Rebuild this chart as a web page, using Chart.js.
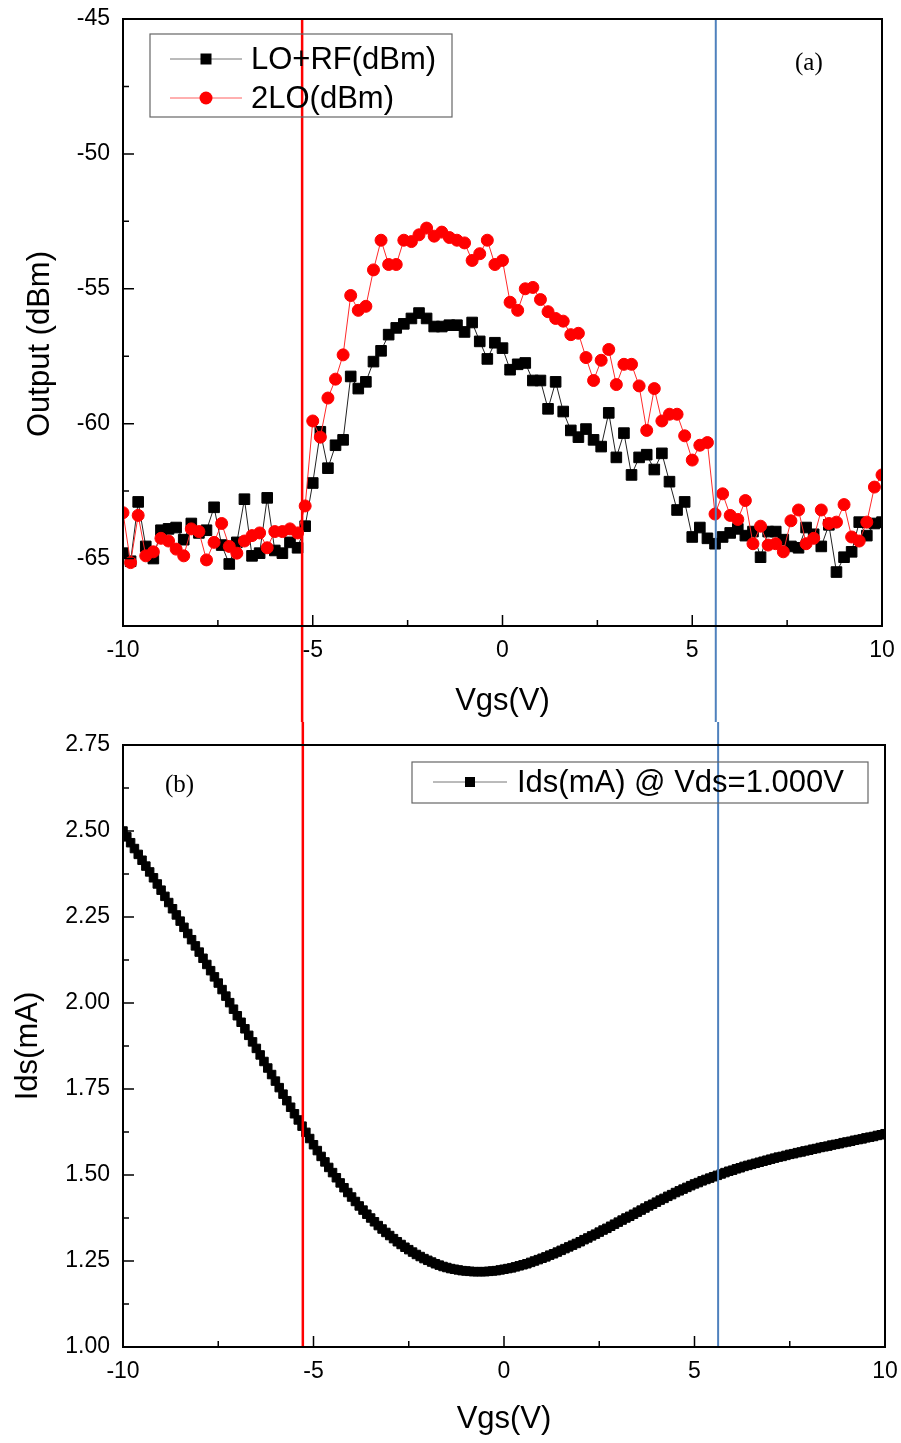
<!DOCTYPE html>
<html>
<head>
<meta charset="utf-8">
<script src="https://cdn.jsdelivr.net/npm/chart.js@4.4.0/dist/chart.umd.min.js"></script>
<style>
  body { margin: 0; background: #fff; }
  #wrap { position: relative; width: 901px; height: 1443px; }
  canvas { position: absolute; left: 0; }
</style>
</head>
<body>
<div id="wrap">
  <canvas id="mix" width="901" height="722" style="top:0"></canvas>
  <canvas id="ids" width="901" height="721" style="top:722px"></canvas>
</div>
<script>
// gate sweep: -10 V .. 10 V
const vgsStart = -10
const stepMix = 0.2
const stepIds = 0.1

// (a) mixer output, one value per 0.2 V
const loRf = [
  -64.8, -65.1, -62.9, -64.55, -65.0, -63.95, -63.9, -63.85, -64.3, -63.7,
  -64.05, -63.95, -63.1, -64.5, -65.2, -64.4, -62.8, -64.9, -64.8, -62.75,
  -64.7, -64.8, -64.4, -64.6, -63.8, -62.2, -60.3, -61.65, -60.8, -60.6,
  -58.25, -58.7, -58.45, -57.7, -57.3, -56.7, -56.45, -56.3, -56.1, -55.9,
  -56.1, -56.4, -56.4, -56.35, -56.35, -56.6, -56.25, -56.95, -57.6, -57.0,
  -57.2, -58.0, -57.8, -57.75, -58.4, -58.4, -59.45, -58.45, -59.55, -60.25,
  -60.5, -60.2, -60.6, -60.85, -59.6, -61.25, -60.35, -61.9, -61.25, -61.15,
  -61.7, -61.1, -62.15, -63.2, -62.9, -64.2, -63.85, -64.25, -64.45, -64.2,
  -64.05, -63.9, -64.15, -64.0, -64.95, -64.0, -64.0, -64.3, -64.55, -64.6,
  -63.85, -64.1, -64.55, -63.75, -65.5, -64.95, -64.75, -63.65, -64.15, -63.7,
  -63.65
]
const twoLo = [
  -63.3, -65.15, -63.4, -64.9, -64.75, -64.25, -64.35, -64.65, -64.9, -63.9,
  -64.0, -65.05, -64.4, -63.7, -64.55, -64.8, -64.35, -64.15, -64.05, -64.6,
  -64.0, -64.0, -63.9, -64.05, -63.05, -59.9, -60.5, -59.05, -58.35, -57.45,
  -55.25, -55.8, -55.65, -54.3, -53.2, -54.1, -54.1, -53.2, -53.25, -53.0,
  -52.75, -53.05, -52.9, -53.1, -53.2, -53.3, -53.95, -53.7, -53.2, -54.1,
  -53.95, -55.5, -55.8, -55.0, -54.95, -55.4, -55.85, -56.1, -56.2, -56.7,
  -56.65, -57.55, -58.4, -57.65, -57.25, -58.55, -57.8, -57.8, -58.6, -60.25,
  -58.7, -59.9, -59.65, -59.65, -60.45, -61.35, -60.8, -60.7, -63.35, -62.6,
  -63.4, -63.55, -62.85, -64.45, -63.8, -64.5, -64.45, -64.75, -63.6, -63.2,
  -64.45, -64.25, -63.2, -63.7, -63.65, -63.0, -64.2, -64.35, -63.65, -62.35,
  -61.9
]

// (b) drain current in mA, one value per 0.1 V
const idsMa = [
  2.500, 2.483, 2.466, 2.449, 2.432, 2.415, 2.398, 2.381, 2.364, 2.346,
  2.328, 2.310, 2.292, 2.274, 2.256, 2.238, 2.220, 2.202, 2.184, 2.166,
  2.148, 2.130, 2.112, 2.094, 2.076, 2.058, 2.039, 2.020, 2.001, 1.982,
  1.963, 1.944, 1.925, 1.906, 1.887, 1.868, 1.849, 1.830, 1.811, 1.792,
  1.773, 1.754, 1.735, 1.716, 1.697, 1.678, 1.660, 1.642, 1.624, 1.606,
  1.588, 1.571, 1.554, 1.538, 1.522, 1.507, 1.492, 1.477, 1.463, 1.449,
  1.436, 1.423, 1.410, 1.398, 1.386, 1.375, 1.364, 1.353, 1.343, 1.333,
  1.324, 1.315, 1.306, 1.298, 1.290, 1.283, 1.276, 1.269, 1.263, 1.257,
  1.252, 1.247, 1.242, 1.238, 1.234, 1.231, 1.228, 1.226, 1.224, 1.222,
  1.221, 1.220, 1.219, 1.219, 1.219, 1.219, 1.220, 1.221, 1.222, 1.224,
  1.226, 1.228, 1.230, 1.233, 1.236, 1.239, 1.242, 1.246, 1.250, 1.254,
  1.258, 1.262, 1.267, 1.271, 1.276, 1.281, 1.286, 1.291, 1.296, 1.301,
  1.306, 1.312, 1.317, 1.323, 1.328, 1.334, 1.340, 1.345, 1.351, 1.357,
  1.363, 1.369, 1.375, 1.380, 1.386, 1.392, 1.398, 1.404, 1.410, 1.415,
  1.421, 1.427, 1.432, 1.438, 1.443, 1.449, 1.454, 1.459, 1.464, 1.469,
  1.474, 1.478, 1.483, 1.487, 1.491, 1.495, 1.499, 1.503, 1.507, 1.511,
  1.514, 1.518, 1.521, 1.525, 1.528, 1.531, 1.534, 1.537, 1.540, 1.543,
  1.546, 1.549, 1.552, 1.554, 1.557, 1.560, 1.562, 1.565, 1.567, 1.570,
  1.572, 1.575, 1.577, 1.580, 1.582, 1.584, 1.587, 1.589, 1.591, 1.594,
  1.596, 1.598, 1.601, 1.603, 1.605, 1.608, 1.610, 1.612, 1.615, 1.617,
  1.620
]

// axis ticks
const vgsTicks = [-10, -5, 0, 5, 10]
const vgsMinor = [-7.5, -2.5, 2.5, 7.5]
const outTicks = [-65, -60, -55, -50, -45]
const outMinor = [-62.5, -57.5, -52.5, -47.5]
const idsTicks = [1.00, 1.25, 1.50, 1.75, 2.00, 2.25, 2.50, 2.75]
const idsMinor = [1.125, 1.375, 1.625, 1.875, 2.125, 2.375, 2.625]

// bias markers (V)
const markLow = -5.28
const markHigh = 5.62

const sans = "'Liberation Sans', Arial, sans-serif"
const serif = "'Liberation Serif', 'Times New Roman', serif"

function pts(vals, step){
    return vals.map((v, i) => ({x: +(vgsStart + i * step).toFixed(2), y: v}))
}

function marker(ctx, style, x, y, r, color){
    ctx.fillStyle = color
    ctx.beginPath()
    if (style == 'rect') ctx.rect(x - r, y - r, 2 * r, 2 * r)
    else ctx.arc(x, y, r, 0, Math.PI * 2)
    ctx.fill()
}

// frame, inward ticks, bias lines, legend box and panel tag
const panelDecor = {
    id: 'panelDecor',
    afterDatasetsDraw(chart, args, o){
        const ctx = chart.ctx
        const a = chart.chartArea
        const xs = chart.scales.x, ys = chart.scales.y
        ctx.save()
        // bias lines
        o.lines.forEach(l => {
            const px = xs.getPixelForValue(l.v)
            ctx.strokeStyle = l.color
            ctx.lineWidth = l.width
            ctx.beginPath()
            ctx.moveTo(px, o.lineFromTop ? 0 : a.top)
            ctx.lineTo(px, o.lineFromTop ? a.bottom : chart.height)
            ctx.stroke()
        })
        // box
        ctx.strokeStyle = '#000'
        ctx.lineWidth = 2
        ctx.strokeRect(a.left, a.top, a.right - a.left, a.bottom - a.top)
        // inward ticks
        ctx.lineWidth = 1.5
        ctx.beginPath()
        o.xMajor.forEach(v => { const p = xs.getPixelForValue(v); ctx.moveTo(p, a.bottom); ctx.lineTo(p, a.bottom - 11) })
        o.xMinor.forEach(v => { const p = xs.getPixelForValue(v); ctx.moveTo(p, a.bottom); ctx.lineTo(p, a.bottom - 6) })
        o.yMajor.forEach(v => { const p = ys.getPixelForValue(v); ctx.moveTo(a.left, p); ctx.lineTo(a.left + 11, p) })
        o.yMinor.forEach(v => { const p = ys.getPixelForValue(v); ctx.moveTo(a.left, p); ctx.lineTo(a.left + 6, p) })
        ctx.stroke()
        // legend
        const b = o.legend
        ctx.strokeStyle = '#666'
        ctx.lineWidth = 1.2
        ctx.strokeRect(b.x, b.y, b.w, b.h)
        ctx.font = b.font
        ctx.textBaseline = 'middle'
        b.items.forEach((it, i) => {
            const y = b.rowY + i * b.rowGap
            ctx.strokeStyle = it.line
            ctx.lineWidth = 1
            ctx.beginPath()
            ctx.moveTo(b.lineX0, y)
            ctx.lineTo(b.lineX1, y)
            ctx.stroke()
            marker(ctx, it.style, (b.lineX0 + b.lineX1) / 2, y, it.r, it.color)
            ctx.fillStyle = '#000'
            ctx.fillText(it.text, b.textX, y + 1)
        })
        // panel tag
        ctx.font = '25px ' + serif
        ctx.fillStyle = '#000'
        ctx.fillText(o.tag.text, o.tag.x, o.tag.y)
        ctx.restore()
    }
}

// fixed axis band sizes, no extra edge padding from the labels
function fitY(s){ s.width = 123; s.paddingTop = 0; s.paddingBottom = 0 }

function axisX(height, titlePad){
    return {
        type: 'linear', min: -10, max: 10,
        afterBuildTicks: s => { s.ticks = vgsTicks.map(v => ({value: v})) },
        afterFit: s => { s.height = height; s.paddingLeft = 0; s.paddingRight = 0 },
        grid: {display: false}, border: {display: false},
        ticks: {color: '#000', font: {family: sans, size: 23}, padding: 3, maxRotation: 0, autoSkip: false},
        title: {display: true, text: 'Vgs(V)', color: '#000', font: {family: sans, size: 31}, padding: {top: 0, bottom: titlePad}}
    }
}

new Chart(document.getElementById('mix'), {
    type: 'line',
    data: {
        datasets: [{
            label: '2LO(dBm)',
            data: pts(twoLo, stepMix),
            borderColor: '#ff2a2a', borderWidth: 1,
            pointStyle: 'circle', pointRadius: 6,
            pointBackgroundColor: '#ff0000', pointBorderColor: '#ff0000', pointBorderWidth: 1,
            order: 1
        }, {
            label: 'LO+RF(dBm)',
            data: pts(loRf, stepMix),
            borderColor: '#222', borderWidth: 1,
            pointStyle: 'rect', pointRadius: 7.5,
            pointBackgroundColor: '#000', pointBorderColor: '#000', pointBorderWidth: 1,
            order: 2
        }]
    },
    options: {
        responsive: false, animation: false, events: [],
        layout: {padding: {top: 19, right: 19, left: 0, bottom: 0}},
        plugins: {
            legend: {display: false}, tooltip: {enabled: false},
            panelDecor: {
                lines: [{v: markLow, color: '#ff0000', width: 2.5}, {v: markHigh, color: '#4f81bd', width: 2}],
                lineFromTop: false,
                xMajor: vgsTicks, xMinor: vgsMinor, yMajor: outTicks, yMinor: outMinor,
                legend: {
                    x: 150, y: 34, w: 302, h: 83, rowY: 59, rowGap: 39,
                    lineX0: 170, lineX1: 242, textX: 251, font: '31px ' + sans,
                    items: [
                        {text: 'LO+RF(dBm)', style: 'rect', r: 5.5, color: '#000', line: '#777'},
                        {text: '2LO(dBm)', style: 'circle', r: 6.5, color: '#ff0000', line: '#ff6060'}
                    ]
                },
                tag: {text: '(a)', x: 795, y: 63}
            }
        },
        scales: {
            x: axisX(96, 2),
            y: {
                min: -67.5, max: -45,
                afterBuildTicks: s => { s.ticks = outTicks.map(v => ({value: v})) },
                afterFit: fitY,
                grid: {display: false}, border: {display: false},
                ticks: {color: '#000', font: {family: sans, size: 23}, padding: 5},
                title: {display: true, text: 'Output (dBm)\u00a0\u00a0\u00a0\u00a0\u00a0', color: '#000', font: {family: sans, size: 31}, padding: {top: 22, bottom: 0}}
            }
        }
    },
    plugins: [panelDecor]
})

new Chart(document.getElementById('ids'), {
    type: 'line',
    data: {
        datasets: [{
            label: 'Ids(mA) @ Vds=1.000V',
            data: pts(idsMa, stepIds),
            borderColor: '#333', borderWidth: 1,
            pointStyle: 'rect', pointRadius: 6,
            pointBackgroundColor: '#000', pointBorderColor: '#000', pointBorderWidth: 1
        }]
    },
    options: {
        responsive: false, animation: false, events: [],
        layout: {padding: {top: 23, right: 16, left: 0, bottom: 0}},
        plugins: {
            legend: {display: false}, tooltip: {enabled: false},
            panelDecor: {
                lines: [{v: markLow, color: '#ff0000', width: 2.5}, {v: markHigh, color: '#4f81bd', width: 2}],
                lineFromTop: true,
                xMajor: vgsTicks, xMinor: vgsMinor, yMajor: idsTicks, yMinor: idsMinor,
                legend: {
                    x: 412, y: 40, w: 456, h: 41, rowY: 60, rowGap: 0,
                    lineX0: 433, lineX1: 507, textX: 517, font: '31px ' + sans,
                    items: [
                        {text: 'Ids(mA) @ Vds=1.000V', style: 'rect', r: 5, color: '#000', line: '#777'}
                    ]
                },
                tag: {text: '(b)', x: 165, y: 63}
            }
        },
        scales: {
            x: axisX(96, 5),
            y: {
                min: 1, max: 2.75,
                afterBuildTicks: s => { s.ticks = idsTicks.map(v => ({value: v})) },
                afterFit: fitY,
                grid: {display: false}, border: {display: false},
                ticks: {color: '#000', font: {family: sans, size: 23}, padding: 5, callback: v => v.toFixed(2)},
                title: {display: true, text: 'Ids(mA)', color: '#000', font: {family: sans, size: 31}, padding: {top: 10, bottom: 0}}
            }
        }
    },
    plugins: [panelDecor]
})
</script>
</body>
</html>
